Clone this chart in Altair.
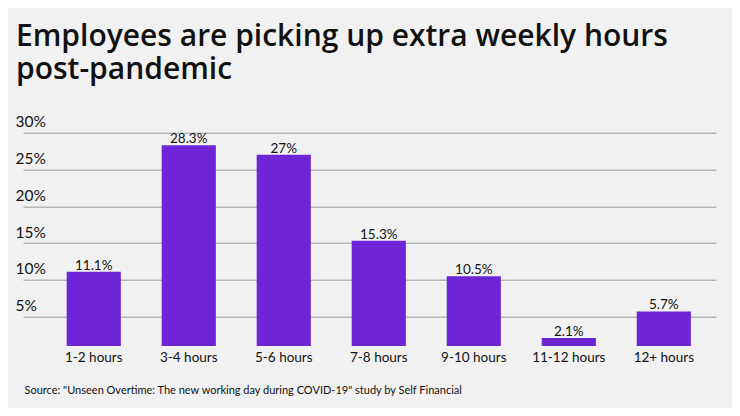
import altair as alt
import pandas as pd

categories = ["1-2 hours", "3-4 hours", "5-6 hours", "7-8 hours", "9-10 hours", "11-12 hours", "12+ hours"]
values = [11.1, 28.3, 27.0, 15.3, 10.5, 2.1, 5.7]
value_labels = ["11.1%", "28.3%", "27%", "15.3%", "10.5%", "2.1%", "5.7%"]
y_ticks = [5, 10, 15, 20, 25, 30]

title_lines = ["Employees are picking up extra weekly hours", "post-pandemic"]
source_text = 'Source: "Unseen Overtime: The new working day during COVID-19" study by Self Financial'

df = pd.DataFrame({"cat": categories, "val": values, "lab": value_labels})

FONT = "Lato"
TFONT = "Open Sans"
BAR = "#6d25d5"
INK = "#111111"

x = alt.X(
    "cat:N",
    sort=categories,
    scale=alt.Scale(paddingInner=0.43, paddingOuter=0.362, align=0.635),
    axis=alt.Axis(
        title=source_text,
        titleAnchor="start", titleX=1, titleY=44, titleAlign="left", titleBaseline="middle",
        titleFont=FONT, titleFontSize=11, titleFontWeight="normal", titleColor=INK,
        labelAngle=0, labelFont=FONT, labelFontSize=13.5, labelColor=INK, labelPadding=4,
        domain=False, ticks=False, grid=False,
    ),
)
y = alt.Y(
    "val:Q",
    scale=alt.Scale(domain=[1, 30], zero=False, nice=False),
    axis=alt.Axis(
        values=y_ticks, labelExpr="datum.value + '%'", title=None,
        domain=False, ticks=False, grid=True, gridColor="#9a9a9a", gridWidth=1,
        labelAlign="left", labelBaseline="bottom", labelPadding=8, labelOffset=-3,
        labelFont=FONT, labelFontSize=15.5, labelColor=INK,
    ),
)

base = alt.Chart(df)
bars = base.mark_bar(color=BAR, clip=True).encode(x=x, y=y)
text = base.mark_text(dy=-2, baseline="alphabetic", font=FONT, fontSize=13.5, color=INK).encode(
    x=alt.X("cat:N", sort=categories), y="val:Q", text="lab:N"
)

chart = (
    alt.layer(bars, text)
    .properties(
        width=693,
        height=213.3,
        title=alt.TitleParams(
            title_lines, anchor="start", font=TFONT, fontSize=30, fontWeight=600,
            color=INK, lineHeight=33, offset=30, dx=1,
        ),
        autosize=alt.AutoSizeParams(type="none"),
        padding={"left": 15, "top": 124.7, "right": 16, "bottom": 62},
        background="#f1f1f1",
    )
    .configure_view(stroke=None)
)

chart.save("out.html", embed_options={"renderer": "svg", "actions": False})
